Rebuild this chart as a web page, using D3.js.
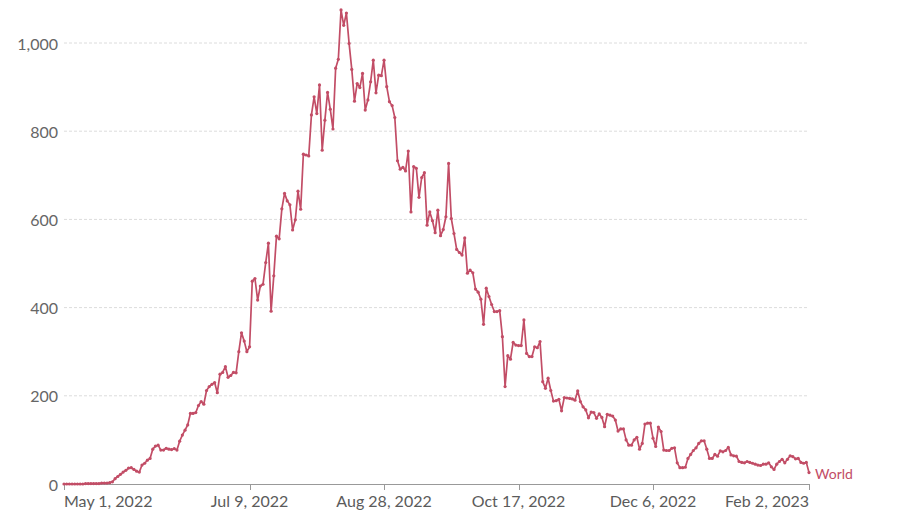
<!DOCTYPE html>
<html>
<head>
<meta charset="utf-8">
<script src="https://cdn.jsdelivr.net/npm/d3@7"></script>
<style>
  html, body { margin: 0; padding: 0; background: #fff; }
  svg { display: block; font-family: Lato, "Noto Sans", sans-serif; }
</style>
</head>
<body>
<svg id="chart" width="900" height="518"></svg>
<script>
// ---- data ----
const startDate = "2022-05-01";
const seriesName = "World";
const values = [
  0,0,0,0,0,0,0,0,1,1,1,1,1,1,2,2,2,3,
  5,12,17,22,27,31,36,37,33,29,27,43,47,54,58,79,86,88,77,77,81,79,
  78,80,77,97,
  111,122,134,160,160,162,178,187,181,212,221,226,230,207,249,253,266,242,246,253,252,300,343,324,300,311,
  460,466,417,449,453,502,546,392,472,562,556,624,659,642,633,576,599,664,623,748,746,744,
  837,878,840,905,757,825,888,850,805,943,963,1075,1040,1068,999,940,868,908,899,931,848,871,912,961,887,927,
  926,961,901,867,858,831,733,714,718,710,755,617,720,716,650,695,706,587,617,597,
  570,621,563,577,606,727,602,568,532,525,519,558,478,485,479,442,435,419,362,444,425,407,391,391,
  393,334,221,291,283,321,315,314,314,372,296,289,289,311,309,323,232,217,240,212,188,189,192,
  166,196,195,194,193,190,211,187,175,168,150,163,162,149,159,151,130,158,156,154,145,120,125,125,100,88,88,100,106,79,92,136,138,
  138,104,85,129,119,77,76,76,81,82,48,37,37,38,58,67,76,82,92,98,98,79,58,58,67,63,75,73,76,83,66,64,63,51,
  49,48,51,49,47,45,43,42,45,45,48,39,33,45,51,56,48,56,64,62,57,58,49,47,49,26
];
const yTicks = [0, 200, 400, 600, 800, 1000];
const xTickDates = ["2022-05-01", "2022-07-09", "2022-08-28", "2022-10-17", "2022-12-06", "2023-02-02"];
const xTickLabels = ["May 1, 2022", "Jul 9, 2022", "Aug 28, 2022", "Oct 17, 2022", "Dec 6, 2022", "Feb 2, 2023"];

// ---- build ----
const parse = d3.utcParse("%Y-%m-%d");
const t0 = parse(startDate);
const data = values.map((v, i) => ({ date: d3.utcDay.offset(t0, i), value: v }));

const color = "#c24d66";
const left = 64, right = 809, bottom = 484, top1000 = 43;

const svg = d3.select("#chart");
const x = d3.scaleUtc()
  .domain([t0, data[data.length - 1].date])
  .range([left, right]);
const y = d3.scaleLinear().domain([0, 1000]).range([bottom, top1000]);

// grid + y labels
const gy = svg.append("g");
gy.selectAll("line.grid").data(yTicks.filter(t => t > 0)).join("line")
  .attr("x1", left).attr("x2", right)
  .attr("y1", d => y(d)).attr("y2", d => y(d))
  .attr("stroke", "#dcdcdc").attr("stroke-dasharray", "3,2").attr("stroke-width", 1);
gy.selectAll("text").data(yTicks).join("text")
  .attr("x", left - 6).attr("y", d => y(d))
  .attr("text-anchor", "end").attr("dominant-baseline", "central")
  .attr("font-size", 16).attr("fill", "#666")
  .text(d => d3.format(",")(d));

// x axis
svg.append("line")
  .attr("x1", left).attr("x2", right).attr("y1", bottom + 0.5).attr("y2", bottom + 0.5)
  .attr("stroke", "#999").attr("stroke-width", 1);
const xt = xTickDates.map((s, i) => ({ date: parse(s), label: xTickLabels[i] }));
svg.append("g").selectAll("line").data(xt).join("line")
  .attr("x1", d => Math.round(x(d.date)) + 0.5).attr("x2", d => Math.round(x(d.date)) + 0.5)
  .attr("y1", bottom).attr("y2", bottom + 6)
  .attr("stroke", "#999");
svg.append("g").selectAll("text").data(xt).join("text")
  .attr("x", d => x(d.date))
  .attr("y", bottom + 16)
  .attr("dominant-baseline", "central")
  .attr("text-anchor", (d, i) => i === 0 ? "start" : (i === xt.length - 1 ? "end" : "middle"))
  .attr("font-size", 16).attr("fill", "#5b5b5b")
  .text(d => d.label);

// line
const line = d3.line().x(d => x(d.date)).y(d => y(d.value));
svg.append("path").datum(data)
  .attr("d", line).attr("fill", "none")
  .attr("stroke", color).attr("stroke-width", 1.7).attr("stroke-linejoin", "round");
svg.append("g").selectAll("circle").data(data).join("circle")
  .attr("cx", d => x(d.date)).attr("cy", d => y(d.value)).attr("r", 1.6)
  .attr("fill", color);

// series label
const last = data[data.length - 1];
svg.append("text")
  .attr("x", x(last.date) + 6).attr("y", y(last.value) + 1)
  .attr("dominant-baseline", "central")
  .attr("font-size", 14).attr("fill", color)
  .text(seriesName);
</script>
</body>
</html>
